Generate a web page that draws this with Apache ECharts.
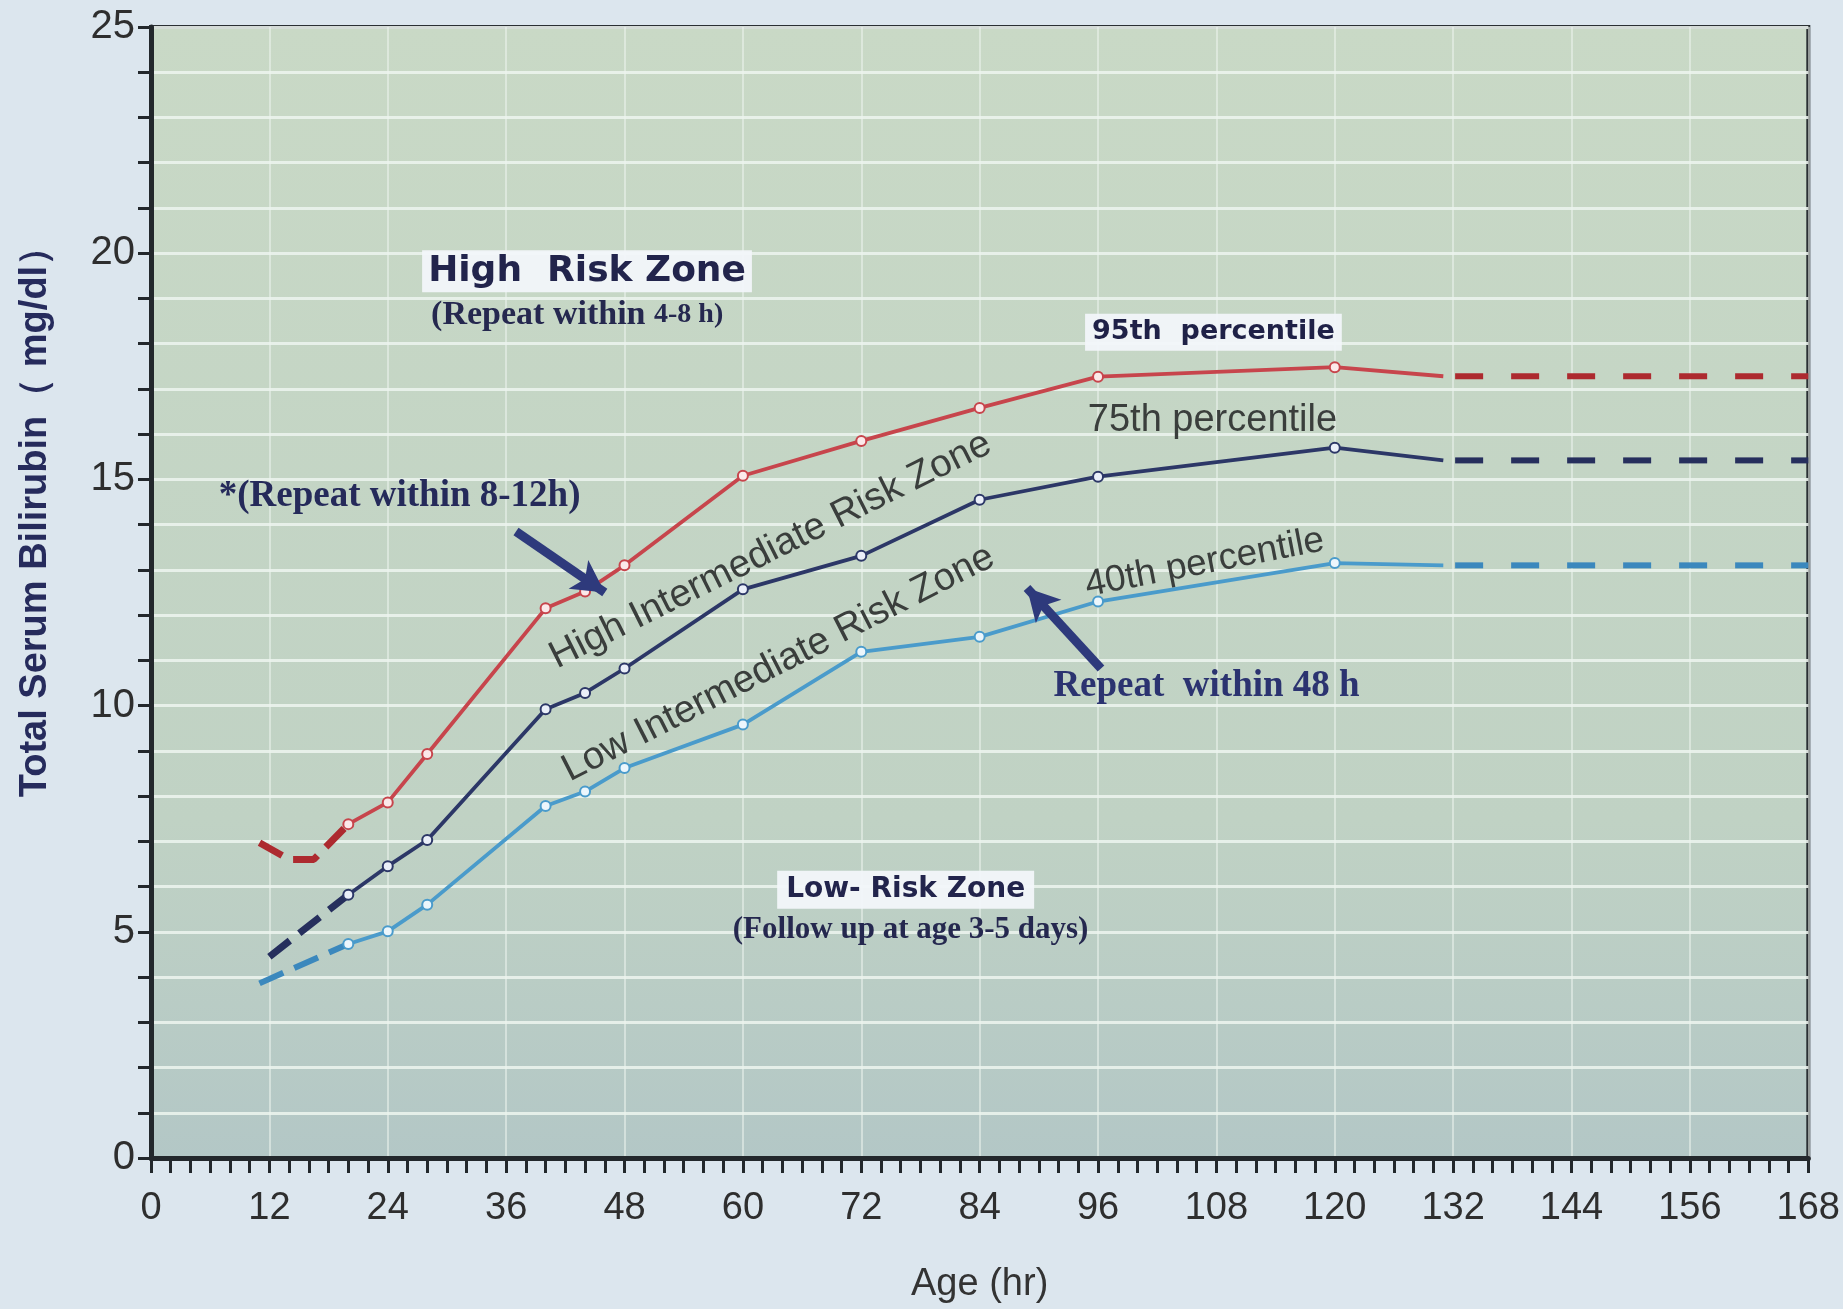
<!DOCTYPE html>
<html><head><meta charset="utf-8">
<script src="https://cdn.jsdelivr.net/npm/echarts@6/dist/echarts.min.js"></script>
<style>html,body{margin:0;padding:0;background:#dce6ee}#c{width:1843px;height:1309px}</style>
</head><body><div id="c"></div>
<script>
// ---- data (hours, mg/dl) ----
const hours = [20, 24, 28, 40, 44, 48, 60, 72, 84, 96, 120, 131];
const p95 = [7.38, 7.86, 8.93, 12.15, 12.52, 13.1, 15.08, 15.85, 16.58, 17.27, 17.48, 17.28];
const p75 = [5.82, 6.45, 7.03, 9.92, 10.28, 10.82, 12.57, 13.31, 14.55, 15.06, 15.7, 15.42];
const p40 = [4.73, 5.01, 5.6, 7.78, 8.1, 8.62, 9.58, 11.19, 11.52, 12.3, 13.15, 13.1];
const earlyHours95 = [11, 14, 16.5, 20];
const early95 = [6.97, 6.6, 6.6, 7.38];
const earlyHours75 = [12, 20];
const early75 = [4.45, 5.82];
const earlyHours40 = [11, 20];
const early40 = [3.86, 4.73];
const tailHours = [132.2, 168];
const tail95 = [17.28, 17.28];
const tail75 = [15.42, 15.42];
const tail40 = [13.1, 13.1];
const xTickValues = [0, 12, 24, 36, 48, 60, 72, 84, 96, 108, 120, 132, 144, 156, 168];
const yTickValues = [0, 5, 10, 15, 20, 25];

const chart = echarts.init(document.getElementById('c'), null, {renderer: 'canvas', width: 1843, height: 1309});

function pts(h, v, noLastSymbol) {
  return h.map((x, i) => (noLastSymbol && i === h.length - 1) ? {value: [x, v[i]], symbol: 'none'} : [x, v[i]]);
}
const RED = '#c7454c', RED_D = '#ad2a2f';
const NAVY = '#2c3767', NAVY_D = '#262f5d';
const LB = '#4a9bcb', LB_D = '#3b88bd';

function solid(name, v, col, fill) {
  return {name, type: 'line', data: pts(hours, v, true), symbol: 'circle', symbolSize: 10,
    itemStyle: {color: fill, borderColor: col, borderWidth: 2},
    lineStyle: {color: col, width: 3.8}, z: 4, animation: false};
}
function dashed(name, h, v, col, dash, w) {
  return {name, type: 'line', data: pts(h, v, false), symbol: 'none',
    lineStyle: {color: col, width: w, type: dash}, z: 3, animation: false};
}

const gridLine = 'rgba(236,244,238,0.88)';
const option = {
  backgroundColor: '#dce6ee',
  animation: false,
  grid: {left: 151, right: 32, top: 27, bottom: 148, show: true,
    backgroundColor: new echarts.graphic.LinearGradient(0, 0, 0, 1, [
      {offset: 0, color: '#c9d9c6'}, {offset: 0.7, color: '#c0d2c4'}, {offset: 1, color: '#b3c7c6'}]),
    borderColor: '#2a2f33', borderWidth: 4},
  xAxis: {type: 'value', min: 0, max: 168, interval: 12,
    name: 'Age (hr)', nameLocation: 'middle', nameGap: 108,
    nameTextStyle: {fontFamily: '"Liberation Sans", Arial, sans-serif', fontSize: 38, color: '#333'},
    axisLine: {onZero: false, lineStyle: {color: '#23282c', width: 5}},
    axisTick: {show: true, length: 15, lineStyle: {color: '#23282c', width: 3}},
    minorTick: {show: true, splitNumber: 6, length: 15, lineStyle: {color: '#23282c', width: 3}},
    axisLabel: {margin: 32, fontFamily: '"Liberation Sans", Arial, sans-serif', fontSize: 38, color: '#2e2e2e',
      formatter: v => xTickValues.includes(v) ? String(v) : ''},
    splitLine: {show: true, lineStyle: {color: 'rgba(236,244,238,0.55)', width: 2}}
  },
  yAxis: {type: 'value', min: 0, max: 25, interval: 5,
    name: 'Total Serum Bilirubin（ mg/dl）', nameLocation: 'middle', nameGap: 96, nameRotate: 90,
    nameTextStyle: {fontFamily: '"Liberation Sans", Arial, sans-serif', fontWeight: 'bold', fontSize: 38, color: '#262b5c',
      padding: [0, 0, 0, 160]},
    axisLine: {onZero: false, lineStyle: {color: '#23282c', width: 5}},
    axisTick: {show: true, length: 13, lineStyle: {color: '#23282c', width: 3}},
    minorTick: {show: true, splitNumber: 5, length: 13, lineStyle: {color: '#23282c', width: 3}},
    axisLabel: {margin: 16, fontFamily: '"Liberation Sans", Arial, sans-serif', fontSize: 40, color: '#2e2e2e',
      padding: [14, 0, 0, 0], formatter: v => yTickValues.includes(v) ? String(v) : ''},
    splitLine: {show: true, lineStyle: {color: gridLine, width: 3}},
    minorSplitLine: {show: true, lineStyle: {color: gridLine, width: 3}}
  },
  series: [
    dashed('95th early', earlyHours95, early95, RED_D, [26, 12], 7),
    dashed('75th early', earlyHours75, early75, NAVY_D, [26, 12], 7),
    dashed('40th early', earlyHours40, early40, LB_D, [26, 12], 6),
    dashed('95th tail', tailHours, tail95, RED_D, [28, 28], 6),
    dashed('75th tail', tailHours, tail75, NAVY_D, [28, 28], 6),
    dashed('40th tail', tailHours, tail40, LB_D, [28, 28], 6),
    solid('95th percentile', p95, RED, '#fbe9ea'),
    solid('75th percentile', p75, NAVY, '#eaeff9'),
    Object.assign(solid('40th percentile', p40, LB, '#ecf6fc'), {
      markLine: {silent: true, animation: false, symbol: ['none', 'arrow'], symbolSize: [26, 32],
        lineStyle: {color: '#2e3a7c', width: 9, type: 'solid'}, label: {show: false},
        data: [
          [{coord: [37, 13.85]}, {coord: [46.0, 12.5]}],
          [{coord: [96.3, 10.82]}, {coord: [88.8, 12.6]}]
        ]}
    })
  ]
};
chart.setOption(option);

// ---- annotations anchored in data units ----
const SANS = '"Liberation Sans", Arial, sans-serif';
const BOLD = '"DejaVu Sans", Verdana, sans-serif';
const SERIF = '"Liberation Serif", "Times New Roman", serif';
const notes = [
  {t: 'High  Risk Zone', at: [44.2, 19.6], font: 'bold 36px ' + BOLD, fill: '#22244c', bg: 'rgba(242,245,250,0.95)', pad: [4, 6, 2, 6]},
  {t: '{a|(Repeat within }{b|4-8 h)}', at: [43.2, 18.63], rich: {a: {font: 'bold 34px ' + SERIF, fill: '#25284f'}, b: {font: 'bold 28px ' + SERIF, fill: '#25284f'}}},
  {t: '95th  percentile', at: [107.7, 18.25], font: 'bold 27px ' + BOLD, fill: '#1f2147', bg: 'rgba(242,245,250,0.95)', pad: [6, 7, 4, 7]},
  {t: '75th percentile', at: [107.6, 16.31], font: '38px ' + SANS, fill: '#3a3e3c'},
  {t: 'High Intermediate Risk Zone', at: [62.8, 13.43], font: '38.5px ' + SANS, fill: '#3a3e3c', rot: 26.5},
  {t: 'Low Intermediate Risk Zone', at: [63.6, 10.93], font: '38.5px ' + SANS, fill: '#3a3e3c', rot: 27},
  {t: '40th percentile', at: [106.8, 13.15], font: '37px ' + SANS, fill: '#3a3e3c', rot: 11},
  {t: '*(Repeat within 8-12h)', at: [25.2, 14.62], font: 'bold 37px ' + SERIF, fill: '#252a5a'},
  {t: 'Repeat  within 48 h', at: [107.0, 10.43], font: 'bold 37px ' + SERIF, fill: '#2b3370'},
  {t: 'Low- Risk Zone', at: [76.5, 5.93], font: 'bold 28px ' + BOLD, fill: '#22244c', bg: 'rgba(242,245,250,0.95)', pad: [6, 9, 4, 9]},
  {t: '(Follow up at age 3-5 days)', at: [77.0, 5.03], font: 'bold 31px ' + SERIF, fill: '#25284f'}
];
chart.setOption({graphic: notes.map(n => {
  const p = chart.convertToPixel({gridIndex: 0}, n.at);
  const style = {text: n.t, fill: n.fill || '#222', align: 'center', verticalAlign: 'middle'};
  if (n.font) style.font = n.font;
  if (n.rich) style.rich = n.rich;
  if (n.bg) { style.backgroundColor = n.bg; style.padding = n.pad; }
  return {type: 'text', x: p[0], y: p[1], rotation: (n.rot || 0) * Math.PI / 180, z: 100, silent: true, style};
})});
</script>
</body></html>
